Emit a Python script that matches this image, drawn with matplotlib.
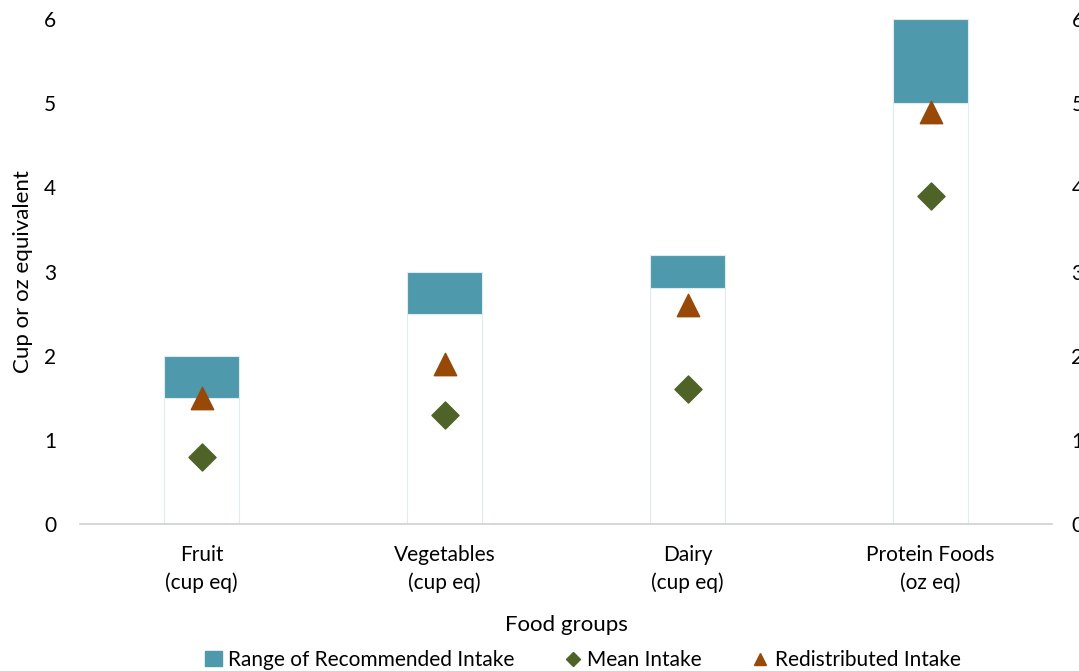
import matplotlib
matplotlib.use("Agg")
import matplotlib.pyplot as plt
from matplotlib.lines import Line2D
from matplotlib.patches import Patch
import numpy as np

# === DATA ===
groups = ["Fruit\n(cup eq)", "Vegetables\n(cup eq)", "Dairy\n(cup eq)", "Protein Foods\n(oz eq)"]
rec_low = [1.5, 2.5, 2.8, 5.0]
rec_high = [2.0, 3.0, 3.2, 6.0]
mean_intake = [0.8, 1.3, 1.6, 3.9]
redistributed = [1.5, 1.9, 2.6, 4.9]

TEAL = "#4e99ab"
GREEN = "#4f6228"
ORANGE = "#984807"

plt.rcParams["font.family"] = ["Lato", "DejaVu Sans"]

fig = plt.figure(figsize=(10.79, 6.71), dpi=100)
ax = fig.add_axes([80 / 1079, 147 / 671, 972 / 1079, 505 / 671])

x = np.arange(len(groups))
rng = np.array(rec_high) - np.array(rec_low)

# white base bar + teal range on top
ax.bar(x, rec_low, width=0.31, color="white", edgecolor="#deebef", linewidth=0.8, zorder=1)
ax.bar(x, rng, bottom=rec_low, width=0.31, color=TEAL, edgecolor="#deebef", linewidth=0.8, zorder=2)

ax.scatter(x, mean_intake, marker="D", s=190, color=GREEN, zorder=3)
ax.scatter(x, redistributed, marker="^", s=260, color=ORANGE, zorder=3)

ax.set_xlim(-0.5, 3.5)
ax.set_ylim(0, 6)
ax.set_yticks(range(0, 7))
ax.set_xticks(x)
ax.set_xticklabels(groups, fontsize=15, linespacing=1.45)
ax.tick_params(axis="y", labelsize=15, length=0, pad=17)
ax.tick_params(axis="x", length=0, pad=15)

for s in ["top", "right", "left"]:
    ax.spines[s].set_visible(False)
ax.spines["bottom"].set_color("#d0d0d0")
ax.spines["bottom"].set_linewidth(1.2)

ax.set_ylabel("Cup or oz equivalent", fontsize=16, labelpad=8)
ax.set_xlabel("Food groups", fontsize=16, labelpad=16)

# secondary axis on the right (labels cut off by the figure edge)
ax2 = ax.twinx()
ax2.set_ylim(0, 6)
ax2.set_yticks(range(0, 7))
ax2.tick_params(axis="y", labelsize=15, length=0, pad=14)
for s in ["top", "right", "left", "bottom"]:
    ax2.spines[s].set_visible(False)

handles = [
    Patch(facecolor=TEAL, edgecolor=TEAL),
    Line2D([], [], marker="D", color=GREEN, linestyle="none", markersize=7),
    Line2D([], [], marker="^", color=ORANGE, linestyle="none", markersize=9),
]
labels = ["Range of Recommended Intake", "Mean Intake", "Redistributed Intake"]
fig.legend(handles, labels, loc="center", bbox_to_anchor=(583 / 1079, 1 - 660 / 671),
           ncol=3, frameon=False, fontsize=15, handlelength=0.8, handletextpad=0.3,
           columnspacing=2.4)

fig.savefig("out.png", dpi=100)
